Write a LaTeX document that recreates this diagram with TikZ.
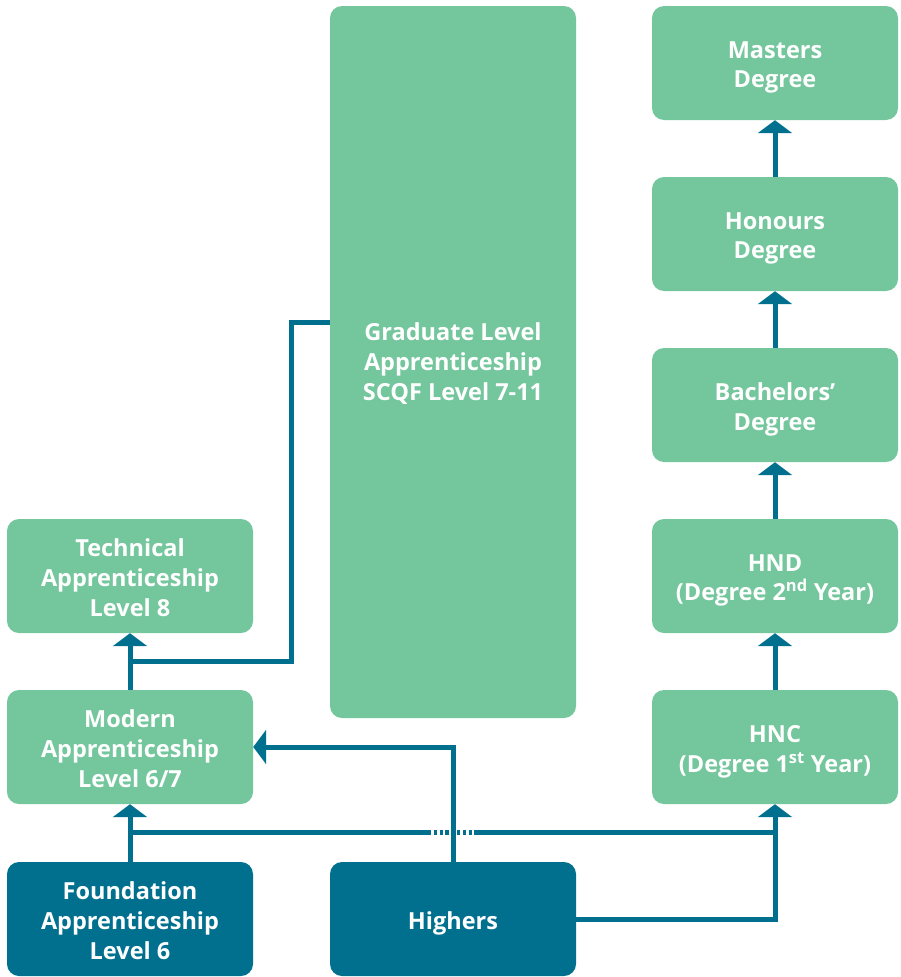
\documentclass[tikz,border=0pt]{standalone}
\usepackage{fontspec}
\setmainfont{Open Sans}
\usetikzlibrary{arrows.meta}
\definecolor{boxgreen}{RGB}{116,198,157}
\definecolor{teal}{RGB}{0,112,142}
\tikzset{
  box/.style={rectangle, rounded corners=12pt, fill=boxgreen, draw=none,
    minimum width=246pt, minimum height=114pt, inner sep=0pt},
  boxlabel/.style={text=white, align=center, inner sep=0pt, yshift=-4.5pt,
    font=\bfseries\fontsize{23.5}{29.7}\selectfont},
  txt/.style={label={[boxlabel]center:#1}},
  txtthree/.style={label={[boxlabel, yshift=3pt]center:#1}},
  darkbox/.style={box, fill=teal},
  conn/.style={draw=teal, line width=5pt},
  arr/.style={conn, -{Triangle[width=34pt,length=13pt]}},
}
\begin{document}
\begin{tikzpicture}[x=1pt,y=-1pt]
\useasboundingbox (0,0) rectangle (901,977);
% right column
\node[box, txt={Masters\\Degree}] (masters) at (775,63) {};
\node[box, txt={Honours\\Degree}] (honours) at (775,234) {};
\node[box, txt={Bachelors’\\Degree}] (bach) at (775,405) {};
\node[box, txt={HND\\(Degree 2\textsuperscript{nd} Year)}] (hnd) at (775,576) {};
\node[box, txt={HNC\\(Degree 1\textsuperscript{st} Year)}] (hnc) at (775,747) {};
% middle
\node[box, minimum height=712pt, txtthree={Graduate Level\\Apprenticeship\\SCQF Level 7-11}] (grad) at (453,362) {};
\node[darkbox, txt={Highers}] (highers) at (453,919) {};
% left
\node[box, txtthree={Technical\\Apprenticeship\\Level 8}] (tech) at (130,576) {};
\node[box, txtthree={Modern\\Apprenticeship\\Level 6/7}] (modern) at (130,747) {};
\node[darkbox, txtthree={Foundation\\Apprenticeship\\Level 6}] (found) at (130,919) {};
% right column arrows
\draw[arr] (honours.north) -- (masters.south);
\draw[arr] (bach.north) -- (honours.south);
\draw[arr] (hnd.north) -- (bach.south);
\draw[arr] (hnc.north) -- (hnd.south);
% left arrows
\coordinate (j1) at (130,661);
\coordinate (g1) at (291,322);
\draw[arr] (modern.north) -- (tech.south);
\draw[conn] (j1) -| (g1) -- (g1 -| grad.west);
\draw[arr] (found.north) -- (modern.south);
% horizontal link at y=832
\coordinate (j2) at (130,832);
\coordinate (d1) at (428,832);
\coordinate (d2) at (476,832);
\draw[conn] (j2) -- (d1);
\draw[conn, dash pattern=on 3.3pt off 2.5pt] (d1) -- (d2);
\draw[conn] (d2) -- (hnc.south |- j2);
% highers connectors
\draw[arr] (highers.north) |- (modern.east);
\draw[arr] (highers.east) -| (hnc.south);
\end{tikzpicture}
\end{document}
